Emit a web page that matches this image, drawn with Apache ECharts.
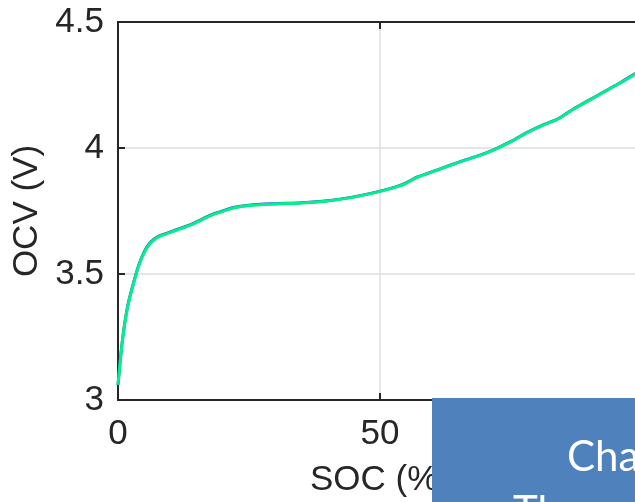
<!DOCTYPE html>
<html>
<head>
<meta charset="utf-8">
<script src="https://cdn.jsdelivr.net/npm/echarts@6/dist/echarts.min.js"></script>
<style>
html,body{margin:0;padding:0;background:#fff;}
#main{width:635px;height:502px;}
</style>
</head>
<body>
<div id="main"></div>
<script>
var soc = [0, 0.5, 1, 1.5, 2, 3, 4, 5, 6, 7, 8, 10, 12, 14, 16, 18, 20, 22, 25, 30, 35, 40, 45, 50, 53, 55, 57, 60, 63, 66, 70, 72, 75, 78, 81, 84, 87, 90, 93, 96, 100];
var ocvGreen = [3.06, 3.17, 3.26, 3.33, 3.385, 3.465, 3.535, 3.585, 3.618, 3.637, 3.65, 3.665, 3.68, 3.695, 3.715, 3.735, 3.748, 3.762, 3.772, 3.778, 3.782, 3.79, 3.805, 3.828, 3.845, 3.86, 3.882, 3.905, 3.928, 3.95, 3.978, 3.995, 4.025, 4.06, 4.09, 4.115, 4.155, 4.19, 4.225, 4.26, 4.31];
var ocvBlue  = [3.06, 3.173, 3.263, 3.333, 3.388, 3.468, 3.538, 3.588, 3.621, 3.64, 3.652, 3.667, 3.682, 3.697, 3.717, 3.737, 3.75, 3.764, 3.773, 3.779, 3.783, 3.791, 3.806, 3.829, 3.846, 3.862, 3.884, 3.906, 3.929, 3.951, 3.979, 3.996, 4.026, 4.061, 4.091, 4.116, 4.156, 4.191, 4.226, 4.261, 4.311];
var xTicks = [0, 50, 100];
var yTicks = [3, 3.5, 4, 4.5];
var xName = 'SOC (%)';
var yName = 'OCV (V)';
var overlayLines = ['Chart', 'The'];

function pairs(xs, ys){ return xs.map(function(x,i){ return [x, ys[i]]; }); }

var chart = echarts.init(document.getElementById('main'));
var axisCol = '#262626';
var fontFam = '"Liberation Sans", Arial, sans-serif';
var fs = 35;
var option = {
  animation: false,
  backgroundColor: '#fff',
  grid: {left: 118, top: 22, width: 524, height: 378, show: false, outerBoundsMode: 'none', containLabel: false},
  xAxis: [{
    type: 'value', min: xTicks[0], max: xTicks[xTicks.length-1], interval: 50,
    name: xName, nameLocation: 'middle', nameGap: 63,
    nameTextStyle: {fontSize: fs, color: axisCol, fontFamily: fontFam},
    axisLine: {show: true, onZero: false, lineStyle: {color: axisCol, width: 2}},
    axisTick: {show: true, inside: true, length: 7, lineStyle: {color: axisCol, width: 2}},
    axisLabel: {fontSize: fs, color: axisCol, fontFamily: fontFam, margin: 17},
    splitLine: {show: true, lineStyle: {color: '#dedede', width: 1.5}}
  },{
    type: 'value', position: 'top', min: xTicks[0], max: xTicks[xTicks.length-1], interval: 50,
    axisLine: {show: true, onZero: false, lineStyle: {color: axisCol, width: 2}},
    axisTick: {show: true, inside: true, length: 7, lineStyle: {color: axisCol, width: 2}},
    axisLabel: {show: false}, splitLine: {show: false}
  }],
  yAxis: [{
    type: 'value', min: yTicks[0], max: yTicks[yTicks.length-1], interval: 0.5,
    name: yName, nameLocation: 'middle', nameGap: 72, nameRotate: 90,
    nameTextStyle: {fontSize: fs, color: axisCol, fontFamily: fontFam},
    axisLine: {show: true, onZero: false, lineStyle: {color: axisCol, width: 2}},
    axisTick: {show: true, inside: true, length: 7, lineStyle: {color: axisCol, width: 2}},
    axisLabel: {fontSize: fs, color: axisCol, fontFamily: fontFam, margin: 14},
    splitLine: {show: true, lineStyle: {color: '#dedede', width: 1.5}}
  },{
    type: 'value', position: 'right', min: yTicks[0], max: yTicks[yTicks.length-1], interval: 0.5,
    axisLine: {show: true, onZero: false, lineStyle: {color: axisCol, width: 2}},
    axisTick: {show: true, inside: true, length: 7, lineStyle: {color: axisCol, width: 2}},
    axisLabel: {show: false}, splitLine: {show: false}
  }],
  series: [{
    type: 'line', data: pairs(soc, ocvBlue), smooth: 0.3, showSymbol: false,
    lineStyle: {color: '#3050e0', width: 3}, z: 2
  },{
    type: 'line', data: pairs(soc, ocvGreen), smooth: 0.3, showSymbol: false,
    lineStyle: {color: '#00f08a', width: 3}, z: 3
  }],
  graphic: [{
    type: 'rect', z: 100, shape: {x: 432, y: 398, width: 210, height: 110},
    style: {fill: '#4f81bd'}
  },{
    type: 'text', z: 101, style: {x: 567, y: 457, text: overlayLines[0], fill: '#ffffff',
      font: '42px Lato, "Noto Sans", sans-serif', textVerticalAlign: 'middle'}
  },{
    type: 'text', z: 101, style: {x: 513, y: 512, text: overlayLines[1], fill: '#ffffff',
      font: '42px Lato, "Noto Sans", sans-serif', textVerticalAlign: 'middle'}
  }]
};
chart.setOption(option);
</script>
</body>
</html>
